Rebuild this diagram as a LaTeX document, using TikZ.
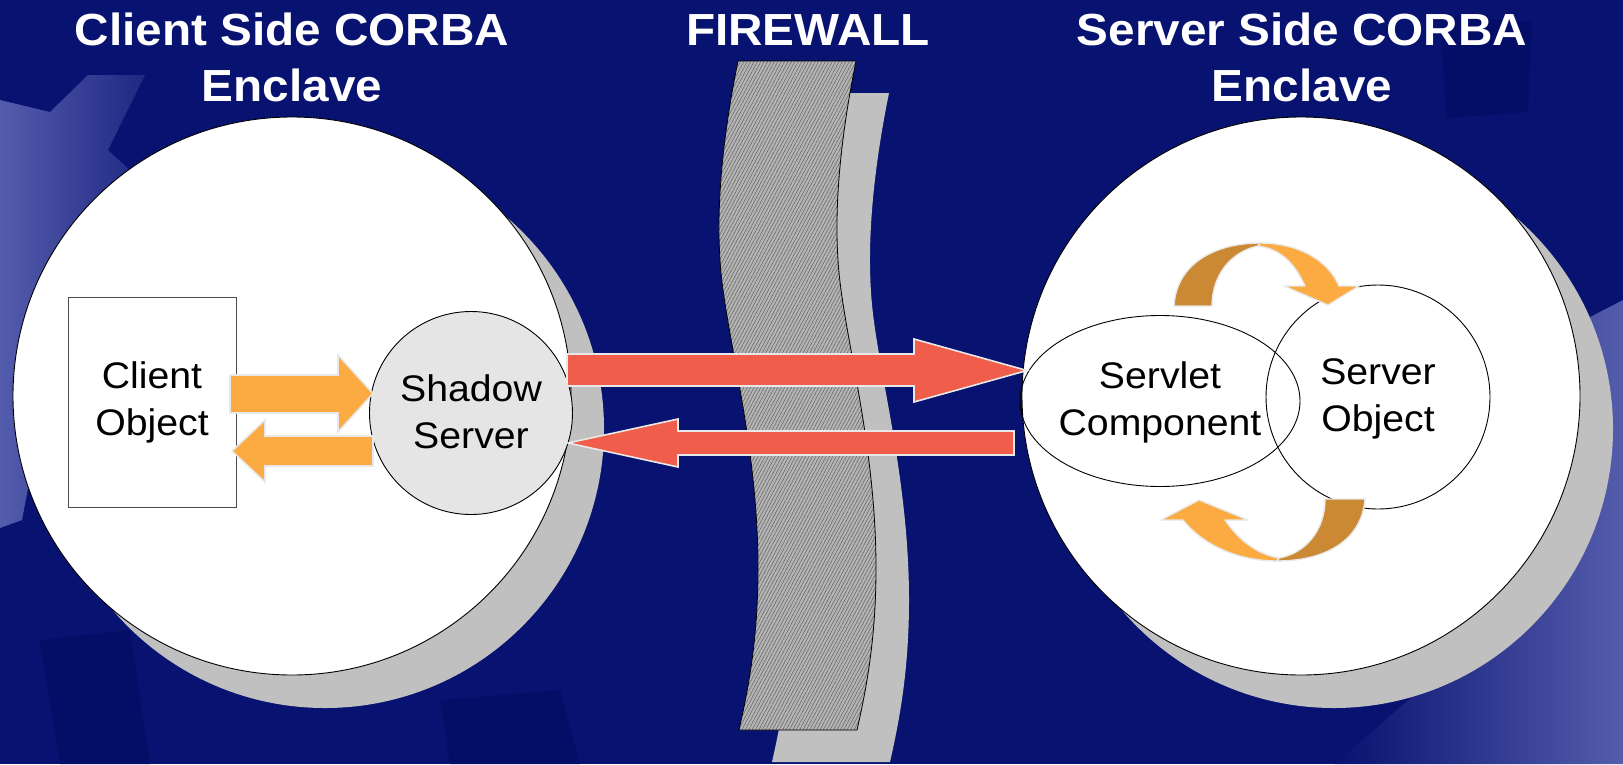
\documentclass[tikz,border=0pt]{standalone}
\usepackage{fontspec}
\setmainfont{Liberation Sans}[FakeStretch=1.06]
\usetikzlibrary{shapes.geometric,patterns.meta,calc}
\definecolor{bgnavy}{RGB}{8,18,112}
\definecolor{bgdark}{RGB}{5,14,102}
\definecolor{bglight}{RGB}{84,92,172}
\definecolor{shgray}{RGB}{192,192,192}
\definecolor{fwgray}{RGB}{180,180,180}
\definecolor{hatch}{RGB}{96,96,96}
\definecolor{ssgray}{RGB}{229,229,229}
\definecolor{edgegray}{RGB}{232,232,232}
\definecolor{olight}{RGB}{251,171,66}
\definecolor{odark}{RGB}{204,137,51}
\definecolor{redarrow}{RGB}{240,94,75}
\begin{document}
\begin{tikzpicture}[x=1pt,y=-1pt,
  outl/.style={draw=black, line width=0.9pt},
  enclave/.style={circle, fill=white, outl, minimum size=558pt, inner sep=0pt},
  blockarrow/.style={draw=edgegray, line width=1.6pt, line join=miter},
  curvearrow/.style={draw=edgegray, line width=1.4pt, line join=round},
  lbl/.style={font=\fontsize{37}{47}\selectfont, align=center, text=black, inner sep=0pt},
  titlelbl/.style={font=\bfseries\fontsize{45}{56}\selectfont, align=center, text=white, inner sep=0pt}]
% background
\fill[bgnavy] (0,0) rectangle (1623,764);
\useasboundingbox (0,0) rectangle (1623,764);
\shade[left color=bglight, right color=bgnavy!70!bglight]
  (0,100) -- (50,112) -- (88,75) -- (145,75) -- (108,150) -- (135,175) -- (60,320) -- (22,520) -- (0,528) -- cycle;
\shade[left color=bgnavy, right color=bglight]
  (1335,764) -- (1540,585) -- (1565,330) -- (1623,300) -- (1623,764) -- cycle;
\fill[bgdark] (1440,15) -- (1532,22) -- (1528,112) -- (1446,118) -- cycle;
\fill[bgdark] (40,640) -- (130,630) -- (150,764) -- (60,764) -- cycle;
\fill[bgdark] (440,700) -- (560,690) -- (580,764) -- (450,764) -- cycle;
% coordinates
\coordinate (lc) at (292,396);
\coordinate (rc) at (1301,396);
% shadows
\fill[shgray] ($(lc)+(33,33)$) circle[radius=279];
\fill[shgray] ($(rc)+(33,33)$) circle[radius=279];
\begin{scope}[shift={(33,32)}]
\fill[shgray] (738,61) .. controls (724,130) and (716,200) .. (720,260)
  .. controls (724,330) and (758,440) .. (758,568)
  .. controls (758,640) and (748,690) .. (739,730)
  -- (857,730) .. controls (866,690) and (876,640) .. (876,568)
  .. controls (876,440) and (842,330) .. (838,260)
  .. controls (834,200) and (842,130) .. (856,61) -- cycle;
\end{scope}
% firewall
\path[preaction={fill=fwgray}, pattern={Lines[angle=62, distance=3pt, line width=0.5pt]}, pattern color=hatch, draw=black, line width=0.8pt]
  (738,61) .. controls (724,130) and (716,200) .. (720,260)
  .. controls (724,330) and (758,440) .. (758,568)
  .. controls (758,640) and (748,690) .. (739,730)
  -- (857,730) .. controls (866,690) and (876,640) .. (876,568)
  .. controls (876,440) and (842,330) .. (838,260)
  .. controls (834,200) and (842,130) .. (856,61) -- cycle;
% enclaves
\node[enclave] (lenc) at (lc) {};
\node[enclave] (renc) at (rc) {};
% titles
\node[titlelbl] (tleft) at (292,57.5) {Client Side CORBA\\Enclave};
\node[titlelbl] (tfw) at (808,30) {FIREWALL};
\node[titlelbl] (tright) at (1302,57.5) {Server Side CORBA\\Enclave};
% inner shapes
\node[draw=black!70, fill=white, line width=1pt, minimum width=168pt, minimum height=210pt, inner sep=0pt, lbl] (cobj) at (152,402) {Client\\Object};
\node[circle, fill=ssgray, outl, minimum size=203pt, inner sep=0pt] (ss) at (471,413) {};
\node[lbl] (sstext) at (471,412) {Shadow\\Server};
\node[ellipse, outl, minimum width=280pt, minimum height=171pt, inner sep=0pt] (sc) at (1160,401) {};
\node[circle, outl, minimum size=224pt, inner sep=0pt] (so) at (1378,397) {};
\node[lbl] (sctext) at (1160,402) {Servlet\\Component};
\node[lbl] (sotext) at (1378,399) {Server\\Object};
% red block arrows
\path[blockarrow, fill=redarrow] (567,354) -- (914,354) -- (914,339) -- (1027,370.5) -- (914,402) -- (914,386) -- (567,386) -- cycle;
\path[blockarrow, fill=redarrow] (1014,431) -- (678,431) -- (678,419) -- (568,443) -- (678,467) -- (678,455) -- (1014,455) -- cycle;
% orange block arrows
\path[blockarrow, fill=olight] (230,375) -- (338,375) -- (338,355) -- (373,393.5) -- (338,432) -- (338,413) -- (230,413) -- cycle;
\path[blockarrow, fill=olight] (373,436) -- (265,436) -- (265,420) -- (232,451) -- (265,482) -- (265,466) -- (373,466) -- cycle;
% curved arrows (top)
\path[curvearrow, fill=odark] (1174,306) .. controls (1176,266) and (1212,243) .. (1260,243) -- (1258,246) .. controls (1230,252) and (1212,276) .. (1212,306) -- cycle;
\path[curvearrow, fill=olight] (1260,243) .. controls (1298,243) and (1328,260) .. (1339,286) -- (1359,286) -- (1328,305) -- (1284,286) -- (1305,286) .. controls (1294,262) and (1280,249) .. (1258,246) -- cycle;
% curved arrows (bottom)
\path[curvearrow, fill=odark] (1365,499) .. controls (1362,540) and (1326,561) .. (1277,561) -- (1279,558) .. controls (1306,553) and (1325,530) .. (1325,499) -- cycle;
\path[curvearrow, fill=olight] (1277,561) .. controls (1238,561) and (1203,545) .. (1183,520) -- (1161,520) -- (1199,500) -- (1248,520) -- (1225,520) .. controls (1240,542) and (1258,554) .. (1279,558) -- cycle;
\end{tikzpicture}
\end{document}
